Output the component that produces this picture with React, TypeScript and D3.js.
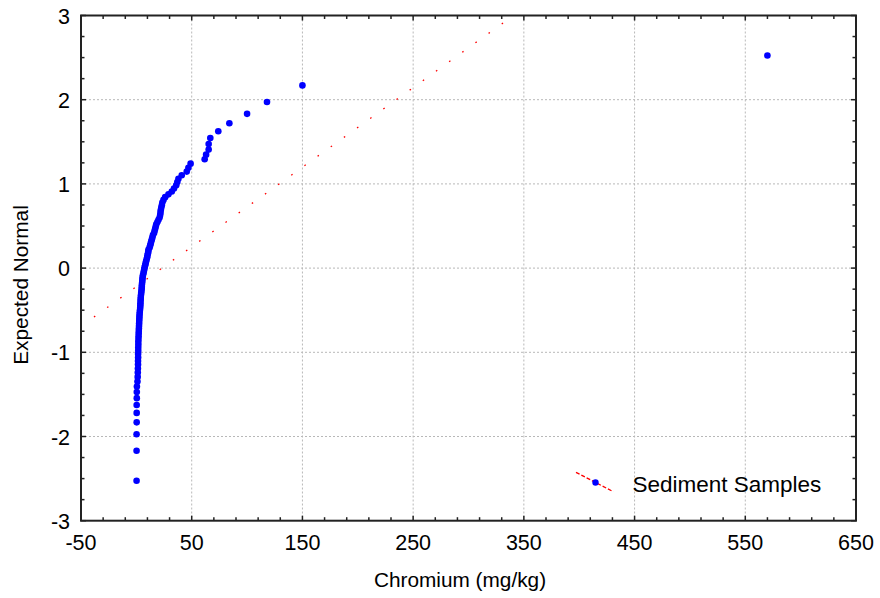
import React from 'react';
import * as d3 from 'd3';

// ---- data ----
const chromium: number[] = [
  0.2, 0.2, 0.2, 0.3, 0.3, 0.3, 0.4, 0.4, 0.5,
  1.0, 1.2, 1.3, 1.4, 1.5, 1.5, 1.6, 1.6, 1.7, 1.7, 1.8, 1.8,
  1.9, 2.0, 2.1, 2.2, 2.3, 2.4, 2.5, 2.6, 2.7, 2.8, 2.9, 3.1, 3.3,
  3.5, 3.6, 3.7, 3.8, 3.9, 4.0, 4.2, 4.4, 4.6, 4.8, 4.9, 5.0, 5.2, 5.4, 5.5, 5.7, 6.0, 6.5, 6.8,
  7.2, 7.5, 8.0, 8.4, 8.8, 9.3, 9.8, 10.0, 10.5, 10.8, 11.0, 12.0, 12.5, 13.0, 13.5, 14.0, 14.5, 15.0, 16.0, 16.5, 17.0,
  17.5, 18.0, 19.0, 20.0, 21.0, 21.5, 21.8, 22.0, 22.5, 23.0, 23.5, 24.5, 26.0, 29.0, 32.0, 34.0, 36.0, 37.0, 38.0, 41.0, 45.5, 47.0,
  49.0, 61.7, 63.0, 65.3, 65.3, 66.8, 74.0, 84.0, 100.0, 118.0, 150.0, 570.0,
];
const xTicks = [-50, 50, 150, 250, 350, 450, 550, 650];
const yTicks = [-3, -2, -1, 0, 1, 2, 3];
const xDomain = [-50, 650];
const yDomain = [-3, 3];
const normalMean = 23.2;
const normalSd = 105.8;
const normalLineStart = -38.3;
const seriesName = 'Sediment Samples';
const xTitle = 'Chromium (mg/kg)';
const yTitle = 'Expected Normal';

// inverse standard normal CDF (Acklam)
function invNorm(p: number): number {
  const a = [-3.969683028665376e1, 2.209460984245205e2, -2.759285104469687e2, 1.38357751867269e2, -3.066479806614716e1, 2.506628277459239];
  const b = [-5.447609879822406e1, 1.615858368580409e2, -1.556989798598866e2, 6.680131188771972e1, -1.328068155288572e1];
  const c = [-7.784894002430293e-3, -3.223964580411365e-1, -2.400758277161838, -2.549671010243019, 4.374664141464968, 2.938163982698783];
  const d = [7.784695709041462e-3, 3.224671290700398e-1, 2.445134137142996, 3.754408661907416];
  const pl = 0.02425;
  if (p < pl) {
    const q = Math.sqrt(-2 * Math.log(p));
    return (((((c[0] * q + c[1]) * q + c[2]) * q + c[3]) * q + c[4]) * q + c[5]) / ((((d[0] * q + d[1]) * q + d[2]) * q + d[3]) * q + 1);
  }
  if (p > 1 - pl) {
    const q = Math.sqrt(-2 * Math.log(1 - p));
    return -(((((c[0] * q + c[1]) * q + c[2]) * q + c[3]) * q + c[4]) * q + c[5]) / ((((d[0] * q + d[1]) * q + d[2]) * q + d[3]) * q + 1);
  }
  const q = p - 0.5;
  const r = q * q;
  return (((((a[0] * r + a[1]) * r + a[2]) * r + a[3]) * r + a[4]) * r + a[5]) * q / (((((b[0] * r + b[1]) * r + b[2]) * r + b[3]) * r + b[4]) * r + 1);
}

const W = 880;
const H = 598;
const M = { left: 81, right: 856, top: 15.5, bottom: 520.7 };
const FONT = '"Liberation Sans", Arial, Helvetica, sans-serif';

export default function App() {
  const x = d3.scaleLinear().domain(xDomain).range([M.left, M.right]);
  const y = d3.scaleLinear().domain(yDomain).range([M.bottom, M.top]);
  const sorted = [...chromium].sort((a, b) => a - b);
  const n = sorted.length;
  const pts = sorted.map((v, i) => ({ v, z: invNorm((i + 1 - 0.375) / (n + 0.25)) }));

  const xMinor = d3.range(xDomain[0], xDomain[1] + 0.01, 20);
  const yMinor = d3.range(yDomain[0], yDomain[1] + 0.001, 0.25);

  const lineEnd = normalMean + normalSd * yDomain[1];
  const refLine = d3.line<number>()
    .x((v) => x(v))
    .y((v) => y((v - normalMean) / normalSd))([normalLineStart, lineEnd]);

  const axisColor = '#222';
  const gridColor = '#b8b8b8';

  return (
    <svg width={W} height={H} style={{ position: 'absolute', left: 0, top: 0, background: '#fff' }} fontFamily={FONT}>
      <defs>
        <clipPath id="plot">
          <rect x={M.left} y={M.top} width={M.right - M.left} height={M.bottom - M.top} />
        </clipPath>
      </defs>
      {/* grid */}
      {xTicks.filter((t) => t > xDomain[0] && t < xDomain[1]).map((t) => (
        <line key={'gx' + t} x1={x(t)} x2={x(t)} y1={M.top} y2={M.bottom} stroke={gridColor} strokeWidth={1} strokeDasharray="2 2" />
      ))}
      {yTicks.filter((t) => t > yDomain[0] && t < yDomain[1]).map((t) => (
        <line key={'gy' + t} x1={M.left} x2={M.right} y1={y(t)} y2={y(t)} stroke={gridColor} strokeWidth={1} strokeDasharray="2 2" />
      ))}
      {/* reference normal line */}
      <g clipPath="url(#plot)">
        <path d={refLine || ''} fill="none" stroke="#ff0000" strokeWidth={1.3} strokeDasharray="1.6 14.6" />
      </g>
      {/* points */}
      <g clipPath="url(#plot)">
        {pts.map((p, i) => (
          <circle key={i} cx={x(p.v)} cy={y(p.z)} r={3.3} fill="#0000ff" />
        ))}
      </g>
      {/* ticks */}
      {xMinor.map((t) => {
        const major = xTicks.includes(t);
        const len = major ? 5 : 3.5;
        return (
          <g key={'tx' + t}>
            <line x1={x(t)} x2={x(t)} y1={M.bottom} y2={M.bottom - len} stroke={axisColor} strokeWidth={1.5} />
            <line x1={x(t)} x2={x(t)} y1={M.top} y2={M.top + len} stroke={axisColor} strokeWidth={1.5} />
          </g>
        );
      })}
      {yMinor.map((t) => {
        const major = yTicks.some((v) => Math.abs(v - t) < 1e-6);
        const len = major ? 5 : 3.5;
        return (
          <g key={'ty' + t}>
            <line x1={M.left} x2={M.left + len} y1={y(t)} y2={y(t)} stroke={axisColor} strokeWidth={1.5} />
            <line x1={M.right} x2={M.right - len} y1={y(t)} y2={y(t)} stroke={axisColor} strokeWidth={1.5} />
          </g>
        );
      })}
      {/* frame */}
      <rect x={M.left} y={M.top} width={M.right - M.left} height={M.bottom - M.top} fill="none" stroke={axisColor} strokeWidth={2} />
      {/* tick labels */}
      {xTicks.map((t) => (
        <text key={'lx' + t} x={x(t)} y={550} textAnchor="middle" fontSize={21.5} fill="#000">{t}</text>
      ))}
      {yTicks.map((t) => (
        <text key={'ly' + t} x={70} y={y(t) + 8} textAnchor="end" fontSize={21.5} fill="#000">{t}</text>
      ))}
      {/* titles */}
      <text x={460} y={587} textAnchor="middle" fontSize={20.8} fill="#000">{xTitle}</text>
      <text transform={`translate(28,285) rotate(-90)`} textAnchor="middle" fontSize={20.8} fill="#000">{yTitle}</text>
      {/* legend */}
      <line x1={576} y1={472.3} x2={613.3} y2={491.7} stroke="#ff0000" strokeWidth={1.3} strokeDasharray="4 2" />
      <circle cx={595.5} cy={482.5} r={3.2} fill="#0000ff" />
      <text x={632.5} y={491.5} fontSize={22.5} fill="#000">{seriesName}</text>
    </svg>
  );
}
